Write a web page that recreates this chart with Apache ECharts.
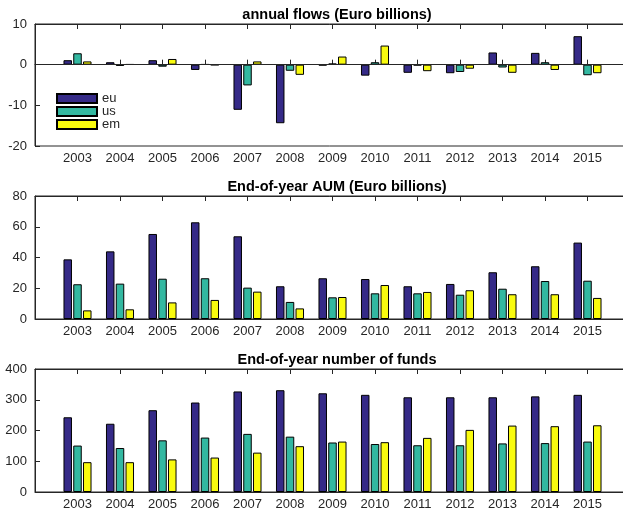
<!DOCTYPE html>
<html>
<head>
<meta charset="utf-8">
<script src="https://cdn.jsdelivr.net/npm/echarts@6/dist/echarts.min.js"></script>
<style>
  html, body { margin: 0; padding: 0; background: #fff; }
  #chart { width: 623px; height: 512px; }
</style>
</head>
<body>
<div id="chart"></div>
<script>
// Fund data by year, three regions
const years = [2003, 2004, 2005, 2006, 2007, 2008, 2009, 2010, 2011, 2012, 2013, 2014, 2015];
const seriesNames = ['eu', 'us', 'em'];

// Annual flows (Euro billions)
const flowsEu = [1.1, 0.6, 1.1, -1.3, -11.1, -14.4, -0.2, -2.7, -2.0, -2.1, 3.0, 2.9, 7.0];
const flowsUs = [2.8, -0.3, -0.5, 0.1, -5.1, -1.5, 0.3, 0.6, -0.2, -1.8, -0.7, 0.6, -2.6];
const flowsEm = [0.8, 0.1, 1.4, -0.1, 0.8, -2.5, 2.0, 4.7, -1.6, -1.0, -2.0, -1.3, -2.1];

// End-of-year AUM (Euro billions)
const aumEu = [38.8, 44.0, 55.3, 62.9, 53.8, 21.3, 26.5, 26.0, 21.3, 22.8, 30.4, 34.3, 49.7];
const aumUs = [22.6, 23.0, 26.2, 26.5, 20.4, 11.1, 14.1, 16.7, 16.7, 15.8, 19.7, 24.7, 24.9];
const aumEm = [5.6, 6.3, 10.8, 12.4, 17.8, 6.9, 14.3, 22.1, 17.6, 18.7, 16.1, 16.1, 13.7];

// End-of-year number of funds
const fundsEu = [243, 222, 266, 291, 327, 331, 321, 316, 308, 308, 308, 311, 316];
const fundsUs = [151, 143, 168, 177, 189, 180, 161, 156, 152, 152, 158, 159, 164];
const fundsEm = [97, 97, 106, 112, 128, 149, 164, 162, 176, 202, 216, 214, 217];

const panelTitles = ['annual flows (Euro billions)', 'End-of-year AUM (Euro billions)', 'End-of-year number of funds'];
const yRanges = [[-20, 10, 10], [0, 80, 20], [0, 400, 100]];

const colors = ['#352a87', '#33b8a1', '#f9fb0e'];
const axisColor = '#262626';
const fontFamily = '"Liberation Sans", Arial, Helvetica, sans-serif';

const panels = [
  [flowsEu, flowsUs, flowsEm],
  [aumEu, aumUs, aumEm],
  [fundsEu, fundsUs, fundsEm]
];

const gridTops = [24, 196, 369];
const gridHeights = [122, 123, 123];
const titleTops = [2, 174, 347];
const xMin = 2002, xMax = 2016;

const grids = [], xAxes = [], yAxes = [], series = [], titles = [];

panels.forEach((panel, p) => {
  // plot box runs past the right edge of the canvas
  grids.push({
    left: 35, right: -7, top: gridTops[p], height: gridHeights[p],
    outerBoundsMode: 'none', containLabel: false,
    show: true, borderColor: axisColor, borderWidth: 1, backgroundColor: 'transparent'
  });
  titles.push({
    text: panelTitles[p], left: 332, top: titleTops[p], textAlign: 'center',
    textStyle: { fontFamily, fontSize: 14.5, fontWeight: 'bold', color: '#000' }
  });
  // bottom axis with year labels
  xAxes.push({
    type: 'value', gridIndex: p, position: 'bottom', min: xMin, max: xMax, interval: 1,
    axisLine: { show: true, lineStyle: { color: axisColor } },
    axisTick: { inside: true, length: 5, lineStyle: { color: axisColor } },
    splitLine: { show: false },
    axisLabel: {
      color: axisColor, fontFamily, fontSize: 13, margin: 6,
      formatter: v => (v > xMin && v < xMax ? String(v) : '')
    }
  });
  // top axis carrying only tick marks
  xAxes.push({
    type: 'value', gridIndex: p, position: 'top', min: xMin, max: xMax, interval: 1,
    axisLine: { show: true, lineStyle: { color: axisColor } },
    axisTick: { inside: true, length: 5, lineStyle: { color: axisColor } },
    splitLine: { show: false },
    axisLabel: { show: false }
  });
  const [ymin, ymax, yint] = yRanges[p];
  yAxes.push({
    type: 'value', gridIndex: p, min: ymin, max: ymax, interval: yint,
    axisLine: { show: true, lineStyle: { color: axisColor } },
    axisTick: { show: true, inside: true, length: 5, lineStyle: { color: axisColor } },
    splitLine: { show: false },
    axisLabel: { color: axisColor, fontFamily, fontSize: 13, margin: 8 }
  });

  panel.forEach((values, s) => {
    const item = {
      name: seriesNames[s],
      type: 'bar',
      xAxisIndex: p * 2,
      yAxisIndex: p,
      barWidth: 8.5,
      barGap: '15%',
      itemStyle: { color: colors[s], borderColor: '#000', borderWidth: 1 },
      data: years.map((y, i) => [y, values[i]])
    };
    if (p === 0 && s === 0) {
      // zero baseline across the flows panel
      item.markLine = {
        silent: true, symbol: 'none', label: { show: false },
        lineStyle: { color: axisColor, type: 'solid', width: 1 },
        data: [{ yAxis: 0 }]
      };
    }
    series.push(item);
  });
});

const chart = echarts.init(document.getElementById('chart'), null, { renderer: 'canvas' });
chart.setOption({
  animation: false,
  backgroundColor: '#fff',
  title: titles,
  grid: grids,
  xAxis: xAxes,
  yAxis: yAxes,
  legend: {
    data: seriesNames,
    orient: 'vertical',
    left: 51, top: 87,
    itemWidth: 40, itemHeight: 9, itemGap: 0,
    icon: 'rect',
    selectedMode: false,
    textStyle: { color: axisColor, fontFamily, fontSize: 13 }
  },
  series
});
</script>
</body>
</html>
